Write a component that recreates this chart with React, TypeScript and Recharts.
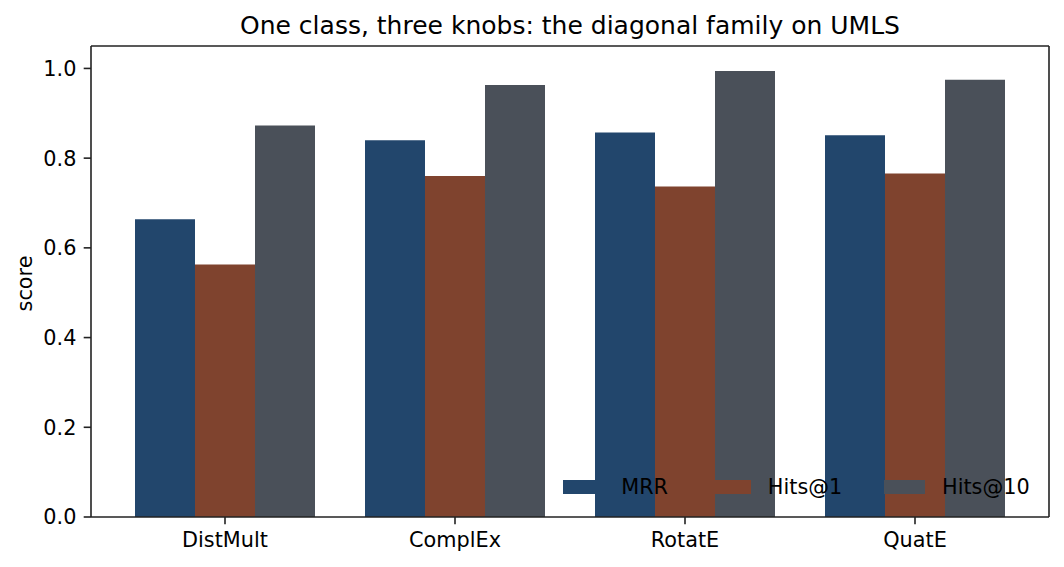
import { BarChart, Bar, XAxis, YAxis, Legend } from "recharts";

const FONT = "'DejaVu Sans', sans-serif";

const models = ["DistMult", "ComplEx", "RotatE", "QuatE"];
const mrr = [0.664, 0.84, 0.857, 0.851];
const hits1 = [0.563, 0.76, 0.737, 0.766];
const hits10 = [0.873, 0.963, 0.994, 0.975];
const yTicks = [0, 0.2, 0.4, 0.6, 0.8, 1.0];

const series = [
  { key: "mrr", name: "MRR", color: "#22466c" },
  { key: "hits1", name: "Hits@1", color: "#7f432e" },
  { key: "hits10", name: "Hits@10", color: "#4a5059" },
];

const data = models.map((m, i) => ({
  model: m,
  mrr: mrr[i],
  hits1: hits1[i],
  hits10: hits10[i],
}));

const SPINE = "#222";

const renderLegend = () => (
  <div style={{ display: "flex", alignItems: "center", fontFamily: FONT, fontSize: 20.8, lineHeight: "24px", color: "#000" }}>
    {series.map((s, i) => (
      <div key={s.key} style={{ display: "flex", alignItems: "center", marginLeft: i ? 41.6 : 0 }}>
        <span style={{ display: "inline-block", width: 41.6, height: 14.6, background: s.color, marginRight: 16.6 }} />
        <span>{s.name}</span>
      </div>
    ))}
  </div>
);

export default function App() {
  return (
    <div style={{ position: "absolute", left: 0, top: 0, width: 1064, height: 567, background: "#fff" }}>
      <div style={{ position: "absolute", left: 91, top: 13, width: 958, textAlign: "center", fontFamily: FONT, fontSize: 25, lineHeight: "25px", color: "#000", zIndex: 2 }}>
        One class, three knobs: the diagonal family on UMLS
      </div>
      <BarChart
        width={1064}
        height={567}
        data={data}
        margin={{ top: 45, right: 14, bottom: 0, left: 0 }}
        barCategoryGap={25}
        barGap={0}
      >
        <XAxis
          dataKey="model"
          height={50}
          padding={{ left: 19, right: 19 }}
          tickSize={7.3}
          tickMargin={7.5}
          tick={{ fontSize: 20.8, fontFamily: FONT, fill: "#000" }}
          axisLine={{ stroke: SPINE, strokeWidth: 1.6 }}
          tickLine={{ stroke: SPINE, strokeWidth: 1.6 }}
        />
        <XAxis
          xAxisId="top"
          orientation="top"
          dataKey="model"
          height={1}
          tick={false}
          tickLine={false}
          axisLine={{ stroke: SPINE, strokeWidth: 1.6 }}
        />
        <YAxis
          width={91}
          domain={[0, 1.05]}
          ticks={yTicks}
          interval={0}
          tickFormatter={(v: number) => v.toFixed(1)}
          tickSize={7.3}
          tickMargin={7.3}
          tick={{ fontSize: 20.8, fontFamily: FONT, fill: "#000" }}
          axisLine={{ stroke: SPINE, strokeWidth: 1.6 }}
          tickLine={{ stroke: SPINE, strokeWidth: 1.6 }}
          label={{
            content: (props: any) => {
              const vb = props.viewBox || { x: 0, y: 46, height: 471 };
              const x = vb.x + 32;
              const y = vb.y + vb.height / 2 + 2;
              return (
                <text x={x} y={y} transform={`rotate(-90 ${x} ${y})`} textAnchor="middle" fontSize={20.8} fontFamily={FONT} fill="#000">
                  score
                </text>
              );
            },
          }}
        />
        <YAxis
          yAxisId="right"
          orientation="right"
          width={1}
          domain={[0, 1.05]}
          tick={false}
          tickLine={false}
          axisLine={{ stroke: SPINE, strokeWidth: 1.6 }}
        />
        {series.map((s) => (
          <Bar key={s.key} dataKey={s.key} name={s.name} fill={s.color} isAnimationActive={false} />
        ))}
        <Legend
          content={renderLegend}
          layout="horizontal"
          verticalAlign="middle"
          align="center"
          wrapperStyle={{ left: 563, top: 475, width: "auto", height: "auto" }}
        />
      </BarChart>
    </div>
  );
}
